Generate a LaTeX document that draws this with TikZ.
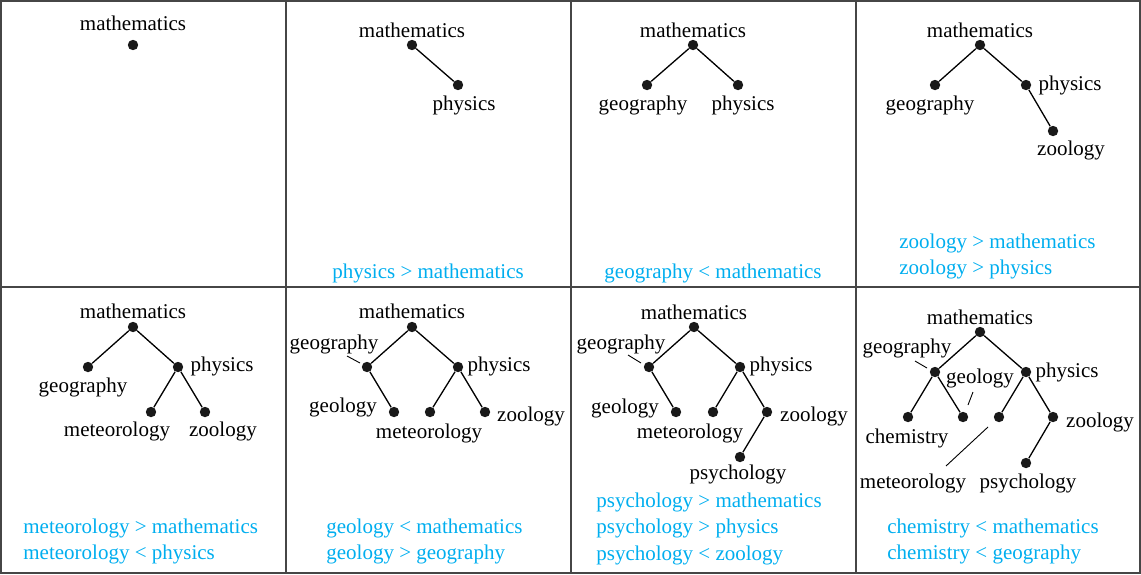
\documentclass[tikz,border=0pt]{standalone}
\usepackage{fontspec}
\setmainfont{Liberation Serif}
\usepackage{tikz}
\usetikzlibrary{positioning}
\definecolor{relblue}{RGB}{0,174,239}
\definecolor{gridgray}{RGB}{70,70,70}

\begin{document}
\begin{tikzpicture}[
    x=0.5pt, y=-0.5pt,
    font=\fontsize{10.5}{13}\selectfont,
    dot/.style={circle, fill=black!90, inner sep=0pt, minimum size=5.2pt},
    lbl/.style={inner sep=1pt, yshift=-0.8pt},
    rel/.style={text=relblue, inner sep=0pt, anchor=west, yshift=-0.8pt},
    relc/.style={text=relblue, inner sep=0pt, yshift=-0.8pt},
    edge/.style={line width=0.65pt},
    lead/.style={line width=0.45pt},
    grid/.style={draw=gridgray, line width=0.75pt},
]
    \useasboundingbox (0,0) rectangle (1141,574);

    % Grid of panels
    \draw[grid] (1,1) rectangle (1140,573);
    \draw[grid] (286,1) -- (286,573);
    \draw[grid] (571,1) -- (571,573);
    \draw[grid] (856,1) -- (856,573);
    \draw[grid] (1,287) -- (1140,287);

    % Panel 1
    \node[dot] (m1) at (133,45) {};
    \node[lbl] (m1t) at (133,22) {mathematics};

    % Panel 2
    \node[dot] (m2) at (412,45) {};
    \node[dot] (p2) at (458,85) {};
    \node[lbl] (m2t) at (412,29) {mathematics};
    \node[lbl] (p2t) at (464,104) {physics};
    \draw[edge] (m2) -- (p2);
    \node[relc] (r2) at (428,272) {physics > mathematics};

    % Panel 3
    \node[dot] (m3) at (693,45) {};
    \node[dot] (g3) at (647,85) {};
    \node[dot] (p3) at (738,85) {};
    \node[lbl] (m3t) at (693,29) {mathematics};
    \node[lbl] (g3t) at (643,104) {geography};
    \node[lbl] (p3t) at (743,104) {physics};
    \draw[edge] (g3) -- (m3) -- (p3);
    \node[relc] (r3) at (713,272) {geography < mathematics};

    % Panel 4
    \node[dot] (m4) at (980,45) {};
    \node[dot] (g4) at (935,85) {};
    \node[dot] (p4) at (1026,85) {};
    \node[dot] (z4) at (1053,131) {};
    \node[lbl] (m4t) at (980,29) {mathematics};
    \node[lbl] (g4t) at (930,104) {geography};
    \node[lbl] (p4t) at (1070,84) {physics};
    \node[lbl] (z4t) at (1071,149) {zoology};
    \draw[edge] (g4) -- (m4) -- (p4) -- (z4);
    \node[rel] (r4a) at (899,242) {zoology > mathematics};
    \node[rel] (r4b) at (899,268) {zoology > physics};

    % Panel 5
    \node[dot] (m5) at (133,327) {};
    \node[dot] (g5) at (88,367) {};
    \node[dot] (p5) at (178,367) {};
    \node[dot] (me5) at (151,412) {};
    \node[dot] (z5) at (205,412) {};
    \node[lbl] (m5t) at (133,310) {mathematics};
    \node[lbl] (g5t) at (83,386) {geography};
    \node[lbl] (p5t) at (222,365) {physics};
    \node[lbl] (me5t) at (117,430) {meteorology};
    \node[lbl] (z5t) at (223,430) {zoology};
    \draw[edge] (g5) -- (m5) -- (p5);
    \draw[edge] (me5) -- (p5) -- (z5);
    \node[rel] (r5a) at (23,527) {meteorology > mathematics};
    \node[rel] (r5b) at (23,553) {meteorology < physics};

    % Panel 6
    \node[dot] (m6) at (412,327) {};
    \node[dot] (g6) at (367,367) {};
    \node[dot] (p6) at (458,367) {};
    \node[dot] (gl6) at (394,412) {};
    \node[dot] (me6) at (430,412) {};
    \node[dot] (z6) at (485,412) {};
    \node[lbl] (m6t) at (412,310) {mathematics};
    \node[lbl] (g6t) at (334,343) {geography};
    \node[lbl] (p6t) at (499,365) {physics};
    \node[lbl] (gl6t) at (343,406) {geology};
    \node[lbl] (me6t) at (429,432) {meteorology};
    \node[lbl] (z6t) at (531,415) {zoology};
    \draw[edge] (g6) -- (m6) -- (p6);
    \draw[edge] (g6) -- (gl6);
    \draw[edge] (me6) -- (p6) -- (z6);
    \coordinate (g6a) at (347,356);
    \coordinate (g6b) at (360,363);
    \draw[lead] (g6a) -- (g6b);
    \node[rel] (r6a) at (326,527) {geology < mathematics};
    \node[rel] (r6b) at (326,553) {geology > geography};

    % Panel 7
    \node[dot] (m7) at (694,327) {};
    \node[dot] (g7) at (649,367) {};
    \node[dot] (p7) at (740,367) {};
    \node[dot] (gl7) at (676,412) {};
    \node[dot] (me7) at (713,412) {};
    \node[dot] (z7) at (767,412) {};
    \node[dot] (ps7) at (740,457) {};
    \node[lbl] (m7t) at (694,311) {mathematics};
    \node[lbl] (g7t) at (621,343) {geography};
    \node[lbl] (p7t) at (781,365) {physics};
    \node[lbl] (gl7t) at (625,407) {geology};
    \node[lbl] (me7t) at (690,432) {meteorology};
    \node[lbl] (z7t) at (814,415) {zoology};
    \node[lbl] (ps7t) at (738,473) {psychology};
    \draw[edge] (g7) -- (m7) -- (p7);
    \draw[edge] (g7) -- (gl7);
    \draw[edge] (me7) -- (p7) -- (z7) -- (ps7);
    \coordinate (g7a) at (628,355);
    \coordinate (g7b) at (641,363);
    \draw[lead] (g7a) -- (g7b);
    \node[rel] (r7a) at (596,501) {psychology > mathematics};
    \node[rel] (r7b) at (596,527) {psychology > physics};
    \node[rel] (r7c) at (596,554) {psychology < zoology};

    % Panel 8
    \node[dot] (m8) at (980,332) {};
    \node[dot] (g8) at (935,372) {};
    \node[dot] (p8) at (1026,372) {};
    \node[dot] (c8) at (908,417) {};
    \node[dot] (gl8) at (963,417) {};
    \node[dot] (me8) at (999,417) {};
    \node[dot] (z8) at (1053,417) {};
    \node[dot] (ps8) at (1026,463) {};
    \node[lbl] (m8t) at (980,316) {mathematics};
    \node[lbl] (g8t) at (907,347) {geography};
    \node[lbl] (gl8t) at (980,377) {geology};
    \node[lbl] (c8t) at (907,437) {chemistry};
    \node[lbl] (p8t) at (1067,371) {physics};
    \node[lbl] (me8t) at (913,482) {meteorology};
    \node[lbl] (z8t) at (1100,421) {zoology};
    \node[lbl] (ps8t) at (1028,482) {psychology};
    \draw[edge] (g8) -- (m8) -- (p8);
    \draw[edge] (c8) -- (g8) -- (gl8);
    \draw[edge] (me8) -- (p8) -- (z8) -- (ps8);
    \coordinate (g8a) at (915,361);
    \coordinate (g8b) at (927,368);
    \draw[lead] (g8a) -- (g8b);
    \coordinate (gl8a) at (973,392);
    \coordinate (gl8b) at (968,405);
    \draw[lead] (gl8a) -- (gl8b);
    \coordinate (me8a) at (988,427);
    \coordinate (me8b) at (946,466);
    \draw[lead] (me8a) -- (me8b);
    \node[rel] (r8a) at (887,527) {chemistry < mathematics};
    \node[rel] (r8b) at (887,553) {chemistry < geography};
\end{tikzpicture}
\end{document}
